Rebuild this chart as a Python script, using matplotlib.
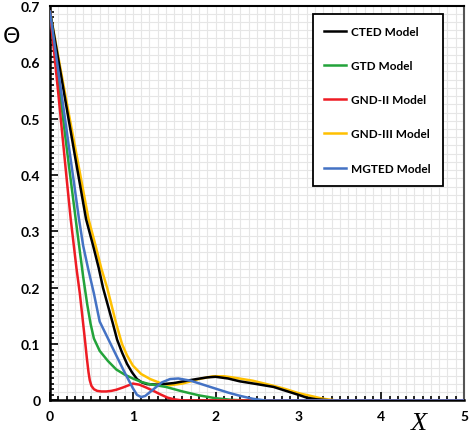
import numpy as np
from matplotlib import pyplot as plt
from matplotlib.ticker import MultipleLocator

plt.rcParams['font.family'] = ['Lato', 'DejaVu Sans']

# values
cted_x = [0, 0.1, 0.2, 0.3, 0.435, 0.52, 0.59, 0.64, 0.7, 0.76, 0.81, 0.87, 0.93, 0.99, 1.05, 1.11, 1.17,
          1.3, 1.5, 1.65, 1.77, 1.9, 2.0, 2.15, 2.29, 2.5, 2.7, 2.85, 3.0, 3.1, 3.22, 3.4, 5]
cted_y = [0.69, 0.605, 0.52, 0.435, 0.322, 0.275, 0.234, 0.2, 0.168, 0.136, 0.108, 0.085, 0.065, 0.05, 0.038,
          0.032, 0.029, 0.028, 0.031, 0.035, 0.038, 0.041, 0.042, 0.039, 0.034, 0.029, 0.024, 0.017, 0.01,
          0.005, 0.002, 0, 0]

gtd_x = [0, 0.1, 0.2, 0.31, 0.36, 0.4, 0.45, 0.49, 0.53, 0.6, 0.7, 0.8, 0.9, 1.0, 1.1, 1.2, 1.4, 1.6,
         1.8, 2.0, 2.2, 2.4, 5]
gtd_y = [0.69, 0.57, 0.45, 0.322, 0.265, 0.22, 0.17, 0.136, 0.11, 0.088, 0.07, 0.055, 0.046, 0.039,
         0.033, 0.029, 0.024, 0.016, 0.009, 0.004, 0.001, 0, 0]

gnd2_x = [0, 0.1, 0.2, 0.25, 0.32, 0.36, 0.39, 0.42, 0.445, 0.465, 0.48, 0.5, 0.53, 0.57, 0.62, 0.68,
          0.74, 0.8, 0.88, 0.95, 1.0, 1.08, 1.16, 1.25, 1.33, 1.42, 1.5, 1.6, 5]
gnd2_y = [0.69, 0.545, 0.395, 0.322, 0.234, 0.19, 0.15, 0.11, 0.075, 0.05, 0.036, 0.026, 0.02, 0.017,
          0.016, 0.016, 0.017, 0.019, 0.023, 0.027, 0.03, 0.028, 0.023, 0.017, 0.011, 0.005, 0.002, 0, 0]

gnd3_x = [0, 0.1, 0.2, 0.3, 0.465, 0.55, 0.62, 0.69, 0.75, 0.8, 0.87, 0.93, 1.0, 1.1, 1.21, 1.33,
          1.45, 1.6, 1.7, 1.8, 1.9, 1.97, 2.1, 2.2, 2.45, 2.7, 2.85, 3.0, 3.15, 3.3, 3.46, 5]
gnd3_y = [0.69, 0.61, 0.53, 0.452, 0.322, 0.275, 0.234, 0.2, 0.165, 0.136, 0.1, 0.08, 0.062, 0.047,
          0.038, 0.031, 0.027, 0.03, 0.034, 0.038, 0.041, 0.043, 0.043, 0.041, 0.035, 0.026, 0.02, 0.013,
          0.008, 0.003, 0, 0]

mgted_x = [0, 0.1, 0.2, 0.3, 0.35, 0.4, 0.46, 0.53, 0.6, 0.7, 0.8, 0.9, 1.0, 1.05, 1.1, 1.15, 1.25,
           1.35, 1.45, 1.55, 1.7, 1.85, 2.0, 2.15, 2.3, 2.45, 2.6, 5]
mgted_y = [0.69, 0.585, 0.48, 0.375, 0.322, 0.275, 0.234, 0.19, 0.14, 0.11, 0.08, 0.05, 0.022, 0.01,
           0.006, 0.008, 0.02, 0.032, 0.038, 0.039, 0.035, 0.028, 0.021, 0.014, 0.008, 0.003, 0, 0]

x_ticks = [0, 1, 2, 3, 4, 5]
x_tick_labels = ['0', '1', '2', '3', '4', '5']
y_ticks = [0, 0.1, 0.2, 0.3, 0.4, 0.5, 0.6, 0.7]
y_tick_labels = ['0', '0.1', '0.2', '0.3', '0.4', '0.5', '0.6', '0.7']

fig = plt.figure(figsize=(4.74, 4.39), dpi=100)
ax = fig.add_axes([0.1055, 0.0855, 0.8735, 0.8985])

# background grid
for gx in np.arange(0.1, 5, 0.1):
	ax.axvline(gx, color='#e6e6e6', lw=0.8, zorder=0)
for gy in np.arange(0.0146, 0.7, 0.0146):
	ax.axhline(gy, color='#e6e6e6', lw=0.8, zorder=0)

lw = 1.8
ax.plot(gnd3_x, gnd3_y, color='#ffc000', lw=lw, label='GND-III Model', zorder=3)
ax.plot(cted_x, cted_y, color='black', lw=lw, label='CTED Model', zorder=4)
ax.plot(gtd_x, gtd_y, color='#22a33a', lw=lw, label='GTD Model', zorder=4)
ax.plot(gnd2_x, gnd2_y, color='#ee1c24', lw=lw, label='GND-II Model', zorder=5)
ax.plot(mgted_x, mgted_y, color='#4472c4', lw=lw, label='MGTED Model', zorder=6)

ax.set_xlim(0, 5)
ax.set_ylim(0, 0.7)
ax.set_xticks(x_ticks, labels=x_tick_labels, fontweight='bold', fontsize=10)
ax.set_yticks(y_ticks, labels=y_tick_labels, fontweight='bold', fontsize=10)
ax.xaxis.set_minor_locator(MultipleLocator(0.1))
ax.yaxis.set_minor_locator(MultipleLocator(0.01))
ax.tick_params(which='both', direction='in', top=False, right=False, width=1.2)
ax.tick_params(which='major', length=6, pad=7)
ax.tick_params(which='minor', length=3)

ax.spines['left'].set_linewidth(1.8)
ax.spines['bottom'].set_linewidth(1.8)
ax.spines['top'].set_linewidth(1.5)
ax.spines['right'].set_color('#555555')
ax.spines['right'].set_linewidth(1.5)

fig.text(12 / 474, 1 - 37 / 439, 'Θ', fontsize=16, ha='center', va='center', family='DejaVu Sans')
fig.text(419 / 474, 1 - 424 / 439, 'X', fontsize=19, ha='center', va='center',
	family='Liberation Serif', style='italic')

handles, labels = ax.get_legend_handles_labels()
order = ['CTED Model', 'GTD Model', 'GND-II Model', 'GND-III Model', 'MGTED Model']
hl = dict(zip(labels, handles))
leg = ax.legend([hl[k] for k in order], order, loc='upper right', bbox_to_anchor=(0.949, 0.98),
	borderaxespad=0, fancybox=False, edgecolor='black', framealpha=1, labelspacing=1.97,
	handlelength=1.8, handletextpad=0.5, borderpad=1.0, prop={'weight': 'bold', 'size': 8.5})
leg.get_frame().set_linewidth(1.3)

fig.savefig('out.png', dpi=100)
